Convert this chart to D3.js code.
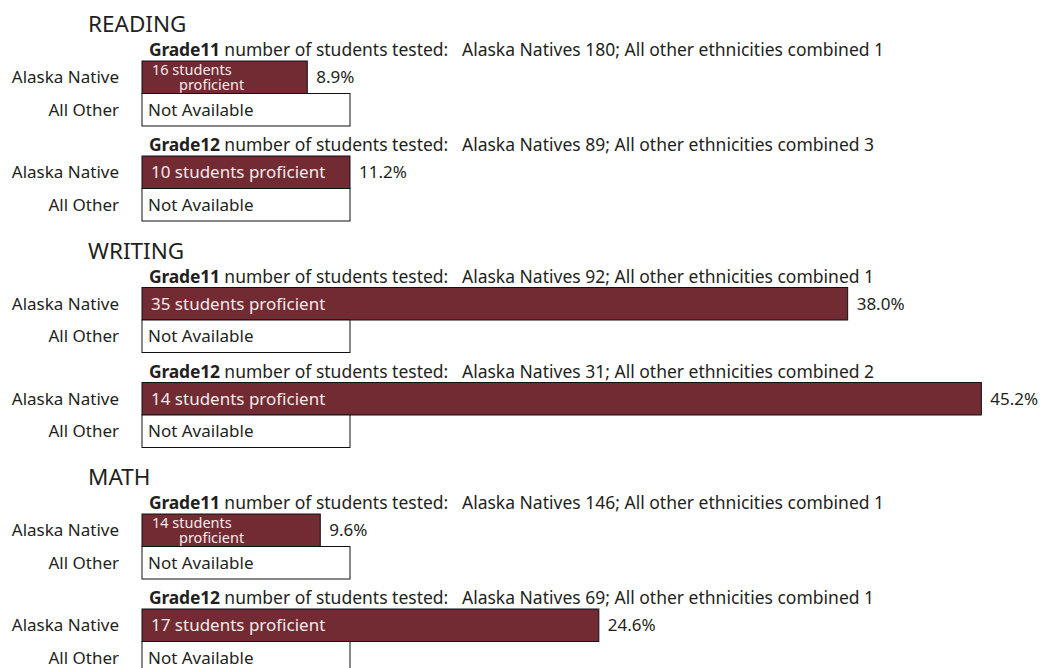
<!DOCTYPE html>
<html>
<head>
<meta charset="utf-8">
<script src="https://cdn.jsdelivr.net/npm/d3@7"></script>
<style>
  html, body { margin: 0; padding: 0; background: #fff; }
  svg { display: block; font-family: "Noto Sans", "Open Sans", sans-serif; }
</style>
</head>
<body>
<svg id="chart" width="1045" height="668"></svg>
<script>
// ---- data ----
const subjects = ["READING", "WRITING", "MATH"];
const grades = ["11", "12"];
const groups = ["Alaska Native", "All Other"];
// one entry per subject x grade (READING 11, READING 12, WRITING 11, ...)
const testedNative = [180, 89, 92, 31, 146, 69];
const testedOther = [1, 3, 1, 2, 1, 1];
const proficientCount = [16, 10, 35, 14, 14, 17];
const proficientPct = [8.9, 11.2, 38.0, 45.2, 9.6, 24.6];
const otherPct = [null, null, null, null, null, null];
const notAvailableText = "Not Available";

// ---- layout ----
const svg = d3.select("#chart");
const maroon = "#722a33";
const ink = "#231f20";
const fs = 17;

const x = d3.scaleLinear().domain([0, 50]).range([142, 142 + 928.5]);
const sectionY = d3.scalePoint().domain(subjects).range([32, 485]);
const gradeY = d3.scalePoint().domain(grades).range([24, 119]);
const barH = 32.5;
const naWidth = 208;
const labelX = 119;

const rows = [];
subjects.forEach((s, si) => grades.forEach((g, gi) => {
  const i = si * grades.length + gi;
  rows.push({subject: s, grade: g, native: testedNative[i], other: testedOther[i],
             count: proficientCount[i], pct: proficientPct[i], otherPct: otherPct[i]});
}));

// section titles
svg.selectAll("text.title").data(subjects).join("text")
  .attr("class", "title")
  .attr("x", 88).attr("y", d => sectionY(d))
  .attr("font-size", 22.5).attr("fill", ink)
  .text(d => d);

const g = svg.selectAll("g.row").data(rows).join("g")
  .attr("class", "row")
  .attr("transform", d => `translate(0,${sectionY(d.subject) + gradeY(d.grade)})`);

// grade header
const hdr = g.append("text")
  .attr("x", 149).attr("y", 0)
  .attr("font-size", 17.5).attr("fill", ink)
  .style("white-space", "pre");
hdr.append("tspan").attr("font-weight", "bold").attr("letter-spacing", -0.2).text(d => "Grade" + d.grade);
hdr.append("tspan").text(d => ` number of students tested:   Alaska Natives ${d.native}; All other ethnicities combined ${d.other}`);

// group labels
groups.forEach((grp, k) => {
  g.append("text")
    .attr("x", labelX)
    .attr("y", 5 + barH * k + barH / 2)
    .attr("dy", "0.36em")
    .attr("text-anchor", "end")
    .attr("font-size", fs).attr("fill", ink)
    .text(grp);
});

// Alaska Native bars
g.append("rect")
  .attr("x", x(0)).attr("y", 5)
  .attr("width", d => x(d.pct) - x(0)).attr("height", barH)
  .attr("fill", maroon).attr("stroke", "#111").attr("stroke-width", 1);

g.append("text")
  .attr("x", d => x(d.pct) + 9)
  .attr("y", 5 + barH / 2).attr("dy", "0.36em")
  .attr("font-size", fs).attr("fill", ink)
  .text(d => d.pct.toFixed(1) + "%");

// bar labels (wrap if too narrow)
g.each(function(d) {
  const sel = d3.select(this);
  const w = x(d.pct) - x(0);
  const label = `${d.count} students proficient`;
  const t = sel.append("text")
    .attr("x", x(0) + 9).attr("y", 5 + barH / 2).attr("dy", "0.36em")
    .attr("font-size", fs).attr("fill", "#f3eaea")
    .text(label);
  if (t.node().getComputedTextLength() > w - 14) {
    t.text(null).attr("dy", null).attr("y", 5).attr("font-size", 14.5);
    t.append("tspan").attr("x", x(0) + 10).attr("y", 5 + 14).text(`${d.count} students`);
    t.append("tspan").attr("x", x(0) + 37).attr("y", 5 + 29).text("proficient");
  }
});

// All Other boxes
g.append("rect")
  .attr("x", x(0)).attr("y", 5 + barH)
  .attr("width", d => d.otherPct == null ? naWidth : x(d.otherPct) - x(0))
  .attr("height", barH)
  .attr("fill", "#fff").attr("stroke", "#111").attr("stroke-width", 1);

g.append("text")
  .attr("x", x(0) + 6)
  .attr("y", 5 + barH + barH / 2).attr("dy", "0.36em")
  .attr("font-size", fs).attr("fill", ink)
  .text(d => d.otherPct == null ? notAvailableText : d.otherPct.toFixed(1) + "%");
</script>
</body>
</html>
